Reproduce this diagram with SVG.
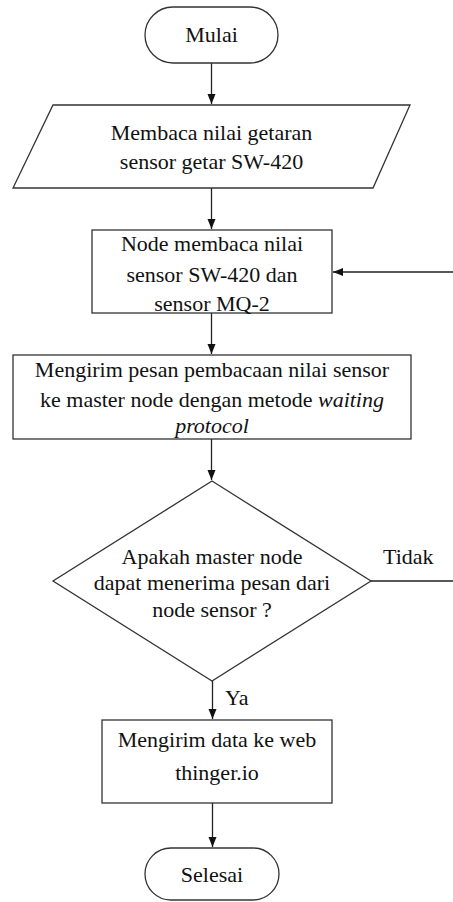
<svg xmlns="http://www.w3.org/2000/svg" width="453" height="902" viewBox="0 0 453 902">
<defs>
<marker id="ah" markerWidth="10" markerHeight="10" refX="10" refY="5" orient="auto" markerUnits="userSpaceOnUse">
<path d="M0,1 L10,5 L0,9 Z" fill="#111"/>
</marker>
<style>
.s{fill:#fff;stroke:#333;stroke-width:1.3}
.c{fill:none;stroke:#222;stroke-width:1.3}
text{font-family:'Liberation Serif','DejaVu Serif',serif;font-size:22px;fill:#111;text-anchor:middle}
.l{text-anchor:start}
</style>
</defs>
<rect width="453" height="902" fill="#fff"/>
<g id="connectors">
<path class="c" d="M211.5,63 V104" marker-end="url(#ah)"/>
<path class="c" d="M211.5,188 V229" marker-end="url(#ah)"/>
<path class="c" d="M211.5,313 V354" marker-end="url(#ah)"/>
<path class="c" d="M211.5,439 V480" marker-end="url(#ah)"/>
<path class="c" d="M212.5,681 V719" marker-end="url(#ah)"/>
<path class="c" d="M212.5,803 V847" marker-end="url(#ah)"/>
<path class="c" d="M371,581 H456 V272 H333" marker-end="url(#ah)"/>
<text class="l" x="383" y="564">Tidak</text>
<text class="l" x="225" y="705">Ya</text>
</g>
<g id="mulai">
<rect class="s" x="145" y="7" width="133" height="56" rx="28"/>
<text x="211.5" y="42">Mulai</text>
</g>
<g id="baca-getar">
<polygon class="s" points="53,105 410,105 373,188 13,188"/>
<text x="211.5" y="140">Membaca nilai getaran</text>
<text x="211.5" y="169">sensor getar SW-420</text>
</g>
<g id="node-baca">
<rect class="s" x="92" y="230" width="240" height="83"/>
<text x="212" y="251">Node membaca nilai</text>
<text x="212" y="282">sensor SW-420 dan</text>
<text x="212" y="311">sensor MQ-2</text>
</g>
<g id="kirim-pesan">
<rect class="s" x="13" y="355" width="398" height="84"/>
<text x="212" y="377">Mengirim pesan pembacaan nilai sensor</text>
<text x="212" y="407">ke master node dengan metode <tspan font-style="italic">waiting</tspan></text>
<text x="212" y="433" font-style="italic">protocol</text>
</g>
<g id="keputusan">
<polygon class="s" points="212,481 371,581 212,681 53,581"/>
<text x="212" y="564">Apakah master node</text>
<text x="212" y="590">dapat menerima pesan dari</text>
<text x="212" y="617">node sensor ?</text>
</g>
<g id="kirim-data">
<rect class="s" x="102" y="720" width="230" height="83"/>
<text x="217" y="747">Mengirim data ke web</text>
<text x="217" y="780">thinger.io</text>
</g>
<g id="selesai">
<rect class="s" x="145" y="848" width="134" height="52" rx="26"/>
<text x="212" y="882">Selesai</text>
</g>
</svg>
